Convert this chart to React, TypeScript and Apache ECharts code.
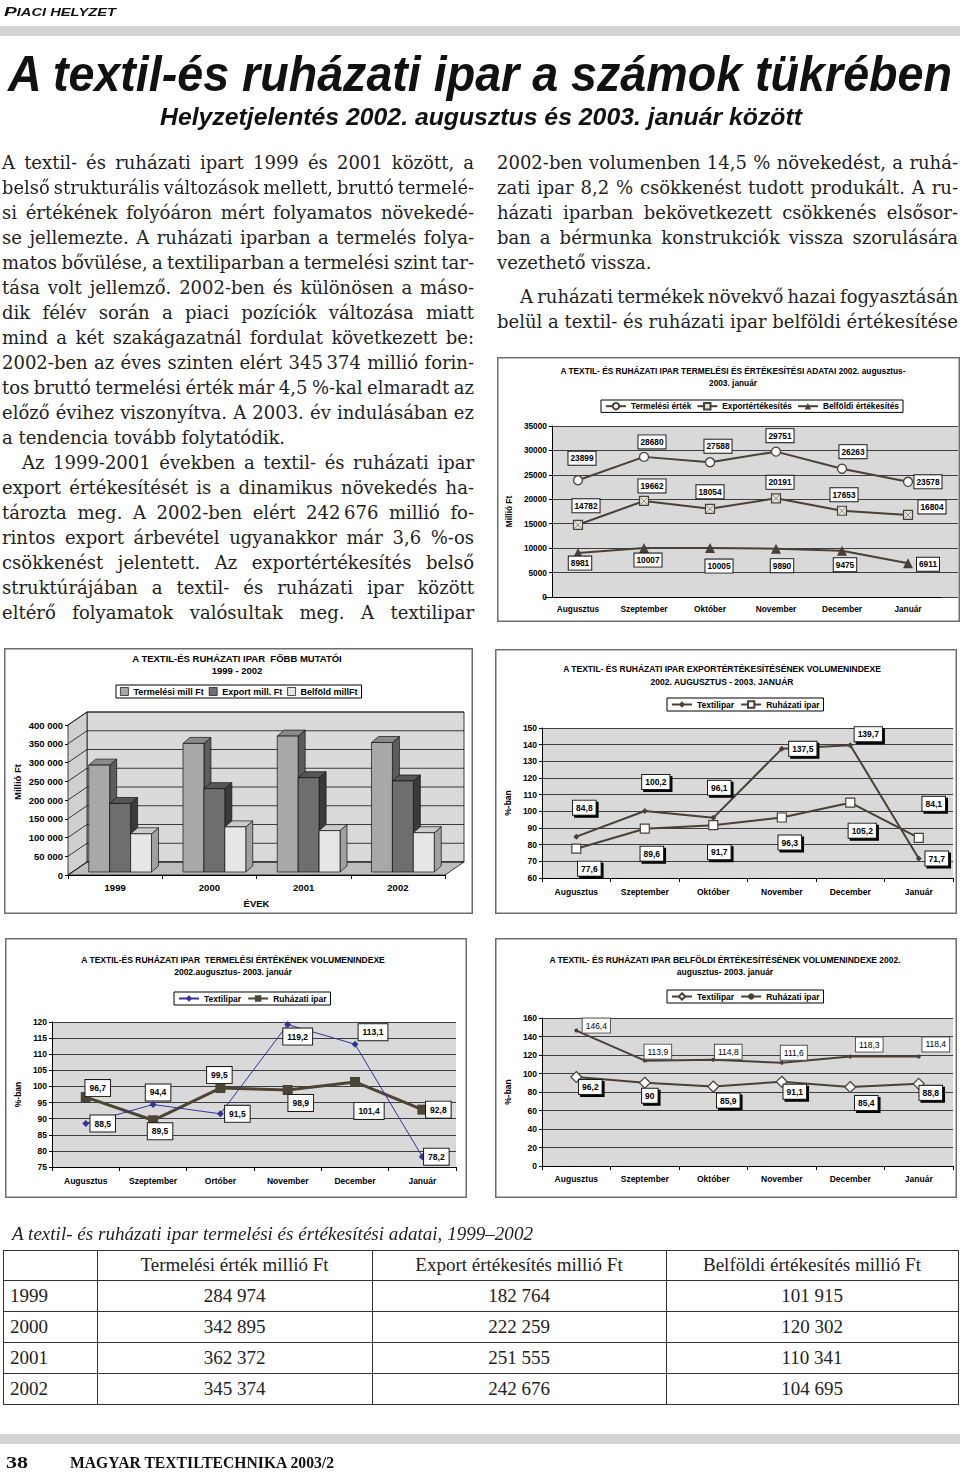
import React, { useEffect, useLayoutEffect, useRef } from 'react';
import * as echarts from 'echarts';

// ---------------- data ----------------
const months = ['Augusztus', 'Szeptember', 'Október', 'November', 'December', 'Január'];
const monthsTermIdx = ['Augusztus', 'Szeptember', 'Ortóber', 'November', 'December', 'Január'];

const termelesiErtek = [23899, 28680, 27588, 29751, 26263, 23578];
const exportErtekesites = [14782, 19662, 18054, 20191, 17653, 16804];
const belfoldiErtekesites = [8981, 10007, 10005, 9890, 9475, 6911];

const exportIdxTextil = [84.8, 100.2, 96.1, 137.5, 139.7, 71.7];
const exportIdxRuhazati = [77.6, 89.6, 91.7, 96.3, 105.2, 84.1];

const termIdxTextil = [88.5, 94.4, 91.5, 119.2, 113.1, 78.2];
const termIdxRuhazati = [96.7, 89.5, 99.5, 98.9, 101.4, 92.8];

const belfIdxTextil = [96.2, 90, 85.9, 91.1, 85.4, 88.8];
const belfIdxRuhazati = [146.4, 113.9, 114.8, 111.6, 118.3, 118.4];

const years = ['1999', '2000', '2001', '2002'];
const evTermelesi = [284974, 342895, 362372, 345374];
const evExport = [182764, 222259, 251555, 242676];
const evBelfoldi = [101915, 120302, 110341, 104695];
const barTicks = [0, 50000, 100000, 150000, 200000, 250000, 300000, 350000, 400000];

const tableHeader = ['Termelési érték millió Ft', 'Export értékesítés millió Ft', 'Belföldi értékesítés millió Ft'];

// ---------------- label offsets (style) ----------------
const offTerm = [[4, -22], [8, -15], [8, -16], [4, -16], [11, -17], [20, 0]];
const offExp = [[8, -19], [8, -15], [0, -17], [4, -16], [2, -16], [24, -8]];
const offBelf = [[2, 10], [4, 12], [9, 18], [6, 17], [3, 14], [20, 1]];
const offE3Tex = [[8, -29], [11, -29], [6, -30], [21, 0], [18, -11], [18, 0]];
const offE3Ruh = [[13, 20], [7, 25], [6, 27], [8, 25], [12, 28], [15, -34]];
const offT4Tex = [[17, 0], [5, -12], [17, 0], [10, 12], [18, -12], [14, 0]];
const offT4Ruh = [[12, -9], [7, 11], [-1, -13], [13, 13], [14, 29], [16, 0]];
const offB5Tex = [[14, 10], [5, 13], [15, 14], [13, 10], [16, 16], [12, 9]];
const offB5Ruh = [[20, -5], [13, -9], [15, -8], [12, -10], [19, -12], [17, -12]];

// ---------------- styles ----------------
const SANS = '"Liberation Sans", Arial, Helvetica, sans-serif';
const SERIF = '"Liberation Serif", "Times New Roman", serif';
const PROSE = '"DejaVu Serif", "Liberation Serif", serif';
const DARK = '#4a4136';
const PLOT_BG = '#d9d9d9';
const GRID_LINE = '#3d3d3d';
const FRAME_C = '#6f6f6f';
const X_PATH = 'path://M0,1 L1,0 L10,9 L19,0 L20,1 L11,10 L20,19 L19,20 L10,11 L1,20 L0,19 L9,10 Z';

const fmtComma = (v: number) => String(v).replace('.', ',');
const fmtPlain = (v: number) => String(v);
const fmtThousands = (v: number) => String(v).replace(/\B(?=(\d{3})+(?!\d))/g, ' ');

const axisFont = (size = 8.5) => ({ fontFamily: SANS, fontSize: size, fontWeight: 'bold', color: '#000' });

function frame(w: number, h: number) {
  return {
    type: 'rect', silent: true, z: 100,
    shape: { x: 0.75, y: 0.75, width: w - 1.5, height: h - 1.5 },
    style: { fill: 'none', stroke: FRAME_C, lineWidth: 1.5 },
  };
}

function gText(x: number, y: number, text: string, size: number, rotation = 0) {
  return {
    type: 'text', silent: true, x, y, rotation, z: 100,
    style: {
      text, font: `bold ${size}px ${SANS}`, fill: '#000',
      align: 'center', verticalAlign: 'middle', textAlign: 'center', textVerticalAlign: 'middle',
    },
  };
}

function withOffsets(values: number[], offs: number[][]) {
  return values.map((v, i) => ({ value: v, label: { offset: offs[i] } }));
}

function boxLabel(fmt: (v: number) => string, o: { bold?: boolean; shadow?: boolean; size?: number; pad?: number[]; border?: string } = {}) {
  const l: any = {
    show: true, position: 'inside', formatter: (p: any) => fmt(p.value),
    fontFamily: SANS, fontSize: o.size ?? 8.5, fontWeight: o.bold === false ? 'normal' : 'bold', color: '#000',
    backgroundColor: '#fff', borderColor: o.border ?? '#1a1a1a', borderWidth: 1, padding: o.pad ?? [3, 3, 2, 3],
  };
  if (o.shadow) {
    l.shadowColor = '#000';
    l.shadowOffsetX = 2;
    l.shadowOffsetY = 2;
    l.shadowBlur = 0;
  }
  return l;
}

function legendCfg(left: number, top: number, data: any[], size = 8.5, itemWidth = 20, itemGap = 6) {
  return {
    left, top, data, orient: 'horizontal', padding: [2, 4], itemGap, itemWidth, itemHeight: 8,
    borderColor: '#000', borderWidth: 1, backgroundColor: '#fff', textStyle: axisFont(size),
  };
}

function valueAxis(min: number, max: number, interval: number, name: string, nameGap: number, size = 8.5, extra: any = {}) {
  return {
    type: 'value', min, max, interval, name, nameLocation: 'middle', nameGap,
    nameTextStyle: axisFont(size),
    axisLine: { show: true, lineStyle: { color: '#000', width: 1 } },
    axisTick: { show: true, length: 3, lineStyle: { color: '#000' } },
    axisLabel: { ...axisFont(size), margin: 5, formatter: (v: number) => String(v) },
    splitLine: { show: true, lineStyle: { color: GRID_LINE, width: 1 } },
    ...extra,
  };
}

function catAxis(data: string[], margin: number, ticks = true, size = 8.5) {
  return {
    type: 'category', data,
    axisLine: { show: true, lineStyle: { color: '#000', width: 1 } },
    axisTick: { show: ticks, length: 4, lineStyle: { color: '#000' } },
    axisLabel: { ...axisFont(size), margin, interval: 0 },
  };
}

// ---------------- chart 1 ----------------
const opt1: any = {
  animation: false,
  backgroundColor: '#fff',
  textStyle: { fontFamily: SANS },
  graphic: [
    frame(463, 265),
    gText(236, 14, 'A TEXTIL- ÉS RUHÁZATI IPAR TERMELÉSI ÉS ÉRTÉKESÍTÉSI ADATAI 2002. augusztus-', 8.3),
    gText(236, 25.5, '2003. január', 8.3),
  ],
  legend: legendCfg(104, 43, ['Termelési érték', 'Exportértékesítés', 'Belföldi értékesítés'], 8.3, 20, 5),
  grid: [
    { left: 48, top: 69, width: 413, height: 171, show: true, backgroundColor: PLOT_BG, borderWidth: 0 },
    { left: 48, top: 69, width: 396, height: 171 },
  ],
  xAxis: [
    { gridIndex: 0, type: 'value', min: 0, max: 1, show: false },
    { gridIndex: 1, ...catAxis(months, 8, false, 8.3) },
  ],
  yAxis: [
    { gridIndex: 0, ...valueAxis(0, 35000, 5000, 'Millió Ft', 34, 8.3) },
    { gridIndex: 1, type: 'value', min: 0, max: 35000, interval: 5000, show: false },
  ],
  series: [
    {
      type: 'line', name: 'Termelési érték', xAxisIndex: 1, yAxisIndex: 1,
      data: withOffsets(termelesiErtek, offTerm),
      symbol: 'circle', symbolSize: 9,
      itemStyle: { color: '#fff', borderColor: DARK, borderWidth: 1.3 },
      lineStyle: { color: DARK, width: 2 },
      label: boxLabel(fmtPlain, { size: 8.3, pad: [3, 2, 2, 2] }),
    },
    {
      type: 'line', name: 'Exportértékesítés', xAxisIndex: 1, yAxisIndex: 1,
      data: withOffsets(exportErtekesites, offExp),
      symbol: 'rect', symbolSize: 9,
      itemStyle: { color: '#e9e5da', borderColor: DARK, borderWidth: 1.2 },
      lineStyle: { color: DARK, width: 2 },
      label: boxLabel(fmtPlain, { size: 8.3, pad: [3, 2, 2, 2] }),
    },
    {
      type: 'line', name: 'Belföldi értékesítés', xAxisIndex: 1, yAxisIndex: 1,
      data: withOffsets(belfoldiErtekesites, offBelf),
      symbol: 'triangle', symbolSize: 10,
      itemStyle: { color: DARK },
      lineStyle: { color: DARK, width: 2 },
      label: boxLabel(fmtPlain, { size: 8.3, pad: [3, 2, 2, 2] }),
    },
    {
      type: 'scatter', name: 'exportX', xAxisIndex: 1, yAxisIndex: 1,
      data: exportErtekesites, symbol: X_PATH, symbolSize: 7,
      itemStyle: { color: DARK }, silent: true, z: 4,
    },
  ],
};

// ---------------- chart 2 (3D bars) ----------------
const W_DX = 19, W_DY = -13;
const BAR_DX = 7, BAR_DY = -6;
const BAR_SHIFT_X = 5, BAR_SHIFT_Y = -3;
const barFaces = [
  { front: '#a8a8a8', top: '#8a8a8a', side: '#5c5c5c' },
  { front: '#6e6e6e', top: '#565656', side: '#3a3a3a' },
  { front: '#e6e6e6', top: '#cbcbcb', side: '#a0a0a0' },
];

function wallsRender(params: any, api: any) {
  const cs = params.coordSys;
  const L = cs.x, T = cs.y, R = cs.x + cs.width, B = cs.y + cs.height;
  const st = (fill: string) => ({ fill, stroke: '#111', lineWidth: 0.8 });
  const children: any[] = [
    { type: 'rect', shape: { x: L + W_DX, y: T + W_DY, width: cs.width, height: cs.height }, style: st('#dadada') },
    { type: 'polygon', shape: { points: [[L, B], [L, T], [L + W_DX, T + W_DY], [L + W_DX, B + W_DY]] }, style: st('#d0d0d0') },
    { type: 'polygon', shape: { points: [[L, B], [R, B], [R + W_DX, B + W_DY], [L + W_DX, B + W_DY]] }, style: st('#bdbdbd') },
  ];
  barTicks.forEach((t) => {
    const y = api.coord([0, t])[1];
    children.push(
      { type: 'line', shape: { x1: L, y1: y, x2: L + W_DX, y2: y + W_DY }, style: { stroke: '#111', lineWidth: 0.8 } },
      { type: 'line', shape: { x1: L + W_DX, y1: y + W_DY, x2: R + W_DX, y2: y + W_DY }, style: { stroke: '#111', lineWidth: 0.8 } },
    );
  });
  return { type: 'group', children };
}

function bar3d(k: number) {
  return (params: any, api: any) => {
    const cat = api.value(0), val = api.value(1);
    const top = api.coord([cat, val]);
    const base = api.coord([cat, 0]);
    const band = api.size([1, 0])[0];
    const bw = band * 0.222;
    const x0 = base[0] - 1.5 * bw + BAR_SHIFT_X + k * bw;
    const yT = top[1] + BAR_SHIFT_Y, yB = base[1] + BAR_SHIFT_Y;
    const f = barFaces[k];
    const st = (fill: string) => ({ fill, stroke: '#111', lineWidth: 0.7 });
    return {
      type: 'group',
      children: [
        { type: 'polygon', shape: { points: [[x0 + bw, yT], [x0 + bw + BAR_DX, yT + BAR_DY], [x0 + bw + BAR_DX, yB + BAR_DY], [x0 + bw, yB]] }, style: st(f.side) },
        { type: 'polygon', shape: { points: [[x0, yT], [x0 + BAR_DX, yT + BAR_DY], [x0 + bw + BAR_DX, yT + BAR_DY], [x0 + bw, yT]] }, style: st(f.top) },
        { type: 'rect', shape: { x: x0, y: yT, width: bw, height: yB - yT }, style: st(f.front) },
      ],
    };
  };
}

const barNames = ['Termelési mill Ft', 'Export mill. Ft', 'Belföld millFt'];
const barSeriesValues = [evTermelesi, evExport, evBelfoldi];

const opt2: any = {
  animation: false,
  backgroundColor: '#fff',
  textStyle: { fontFamily: SANS },
  graphic: [
    frame(469, 266),
    gText(233, 10, 'A TEXTIL-ÉS RUHÁZATI IPAR  FŐBB MUTATÓI', 9.5),
    gText(233, 22, '1999 - 2002', 9.5),
    gText(13, 134, 'Millió Ft', 9.5, Math.PI / 2),
  ],
  legend: {
    ...legendCfg(112, 37, barNames.map((n) => ({ name: n, icon: 'rect' })), 9, 8, 5),
    itemHeight: 8,
    itemStyle: { borderColor: '#222', borderWidth: 0.8 },
  },
  grid: { left: 64, top: 77, width: 377, height: 150 },
  xAxis: {
    ...catAxis(years, 7, true, 9.5),
    name: 'ÉVEK', nameLocation: 'middle', nameGap: 23, nameTextStyle: axisFont(9.5),
  },
  yAxis: {
    ...valueAxis(0, 400000, 50000, '', 0, 9.5),
    axisLabel: { ...axisFont(9.5), margin: 5, formatter: (v: number) => fmtThousands(v) },
    splitLine: { show: false },
  },
  series: [
    { type: 'custom', name: 'walls', renderItem: wallsRender, data: [[0, 0]], silent: true, z: 1 },
    ...barNames.map((n, k) => ({
      type: 'custom', name: n, renderItem: bar3d(k), z: 2 + k,
      data: barSeriesValues[k].map((v, i) => [i, v]),
      itemStyle: { color: barFaces[k].front },
    })),
  ],
};

// ---------------- chart 3 ----------------
const opt3: any = {
  animation: false,
  backgroundColor: '#fff',
  textStyle: { fontFamily: SANS },
  graphic: [
    frame(462, 265),
    gText(227, 20, 'A TEXTIL- ÉS RUHÁZATI IPAR EXPORTÉRTÉKESÍTÉSÉNEK VOLUMENINDEXE', 8.5),
    gText(227, 33, '2002. AUGUSZTUS - 2003. JANUÁR', 8.5),
  ],
  legend: legendCfg(172, 49, ['Textilipar', 'Ruházati ipar']),
  grid: { left: 38, top: 79, width: 420, height: 150, show: true, backgroundColor: PLOT_BG, borderWidth: 0 },
  xAxis: catAxis(months, 9),
  yAxis: valueAxis(60, 150, 10, '%-ban', 25),
  series: [
    {
      type: 'line', name: 'Textilipar', data: withOffsets(exportIdxTextil, offE3Tex),
      symbol: 'diamond', symbolSize: 6, itemStyle: { color: DARK },
      lineStyle: { color: DARK, width: 2 },
      label: boxLabel(fmtComma, { shadow: true }),
    },
    {
      type: 'line', name: 'Ruházati ipar', data: withOffsets(exportIdxRuhazati, offE3Ruh),
      symbol: 'rect', symbolSize: 9, itemStyle: { color: '#fff', borderColor: DARK, borderWidth: 1.2 },
      lineStyle: { color: DARK, width: 2 },
      label: boxLabel(fmtComma, { shadow: true }),
    },
  ],
};

// ---------------- chart 4 ----------------
const BLUE = '#333399';
const OLIVE = '#4d4533';
const opt4: any = {
  animation: false,
  backgroundColor: '#fff',
  textStyle: { fontFamily: SANS },
  graphic: [
    frame(462, 260),
    gText(228, 22, 'A TEXTIL-ÉS RUHÁZATI IPAR  TERMELÉSI ÉRTÉKÉNEK VOLUMENINDEXE', 8.5),
    gText(228, 34, '2002.augusztus- 2003. január', 8.5),
  ],
  legend: legendCfg(169, 54, ['Textilipar', 'Ruházati ipar']),
  grid: { left: 38, top: 84, width: 413, height: 145, show: true, backgroundColor: PLOT_BG, borderWidth: 0 },
  xAxis: catAxis(monthsTermIdx, 9),
  yAxis: valueAxis(75, 120, 5, '%-ban', 23),
  series: [
    {
      type: 'line', name: 'Textilipar', data: withOffsets(termIdxTextil, offT4Tex),
      symbol: 'diamond', symbolSize: 7, itemStyle: { color: BLUE },
      lineStyle: { color: BLUE, width: 1 },
      label: boxLabel(fmtComma, { pad: [4, 4, 3, 4] }),
      z: 3,
    },
    {
      type: 'line', name: 'Ruházati ipar', data: withOffsets(termIdxRuhazati, offT4Ruh),
      symbol: 'rect', symbolSize: 10, itemStyle: { color: OLIVE },
      lineStyle: { color: OLIVE, width: 3 },
      label: boxLabel(fmtComma, { pad: [4, 4, 3, 4] }),
      z: 2,
    },
  ],
};

// ---------------- chart 5 ----------------
const opt5: any = {
  animation: false,
  backgroundColor: '#fff',
  textStyle: { fontFamily: SANS },
  graphic: [
    frame(462, 260),
    gText(230, 22, 'A TEXTIL- ÉS RUHÁZATI IPAR BELFÖLDI ÉRTÉKESÍTÉSÉNEK VOLUMENINDEXE 2002.', 8.5),
    gText(230, 34, 'augusztus- 2003. január', 8.5),
  ],
  legend: legendCfg(172, 52, ['Textilipar', 'Ruházati ipar']),
  grid: { left: 37, top: 80, width: 421, height: 148, show: true, backgroundColor: PLOT_BG, borderWidth: 0 },
  xAxis: catAxis(months, 8.5),
  yAxis: valueAxis(0, 160, 20, '%-ban', 25),
  series: [
    {
      type: 'line', name: 'Textilipar', data: withOffsets(belfIdxTextil, offB5Tex),
      symbol: 'diamond', symbolSize: 11, itemStyle: { color: '#fff', borderColor: DARK, borderWidth: 1.2 },
      lineStyle: { color: DARK, width: 2 },
      label: boxLabel(fmtComma, { shadow: true }),
    },
    {
      type: 'line', name: 'Ruházati ipar', data: withOffsets(belfIdxRuhazati, offB5Ruh),
      symbol: 'circle', symbolSize: 4, itemStyle: { color: DARK },
      lineStyle: { color: DARK, width: 2 },
      label: boxLabel(fmtComma, { bold: false, border: '#555' }),
    },
  ],
};

// ---------------- prose ----------------
type Ln = { t: string; j: boolean; ind?: number };
const leftLines: Ln[] = [
  { t: 'A textil- és ruházati ipart 1999 és 2001 között, a', j: true },
  { t: 'belső strukturális változások mellett, bruttó termelé-', j: true },
  { t: 'si értékének folyóáron mért folyamatos növekedé-', j: true },
  { t: 'se jellemezte. A ruházati iparban a termelés folya-', j: true },
  { t: 'matos bővülése, a textiliparban a termelési szint tar-', j: true },
  { t: 'tása volt jellemző. 2002-ben és különösen a máso-', j: true },
  { t: 'dik félév során a piaci pozíciók változása miatt', j: true },
  { t: 'mind a két szakágazatnál fordulat következett be:', j: true },
  { t: '2002-ben az éves szinten elért 345\u2009374 millió forin-', j: true },
  { t: 'tos bruttó termelési érték már 4,5 %-kal elmaradt az', j: true },
  { t: 'előző évihez viszonyítva. A 2003. év indulásában ez', j: true },
  { t: 'a tendencia tovább folytatódik.', j: false },
  { t: 'Az 1999-2001 években a textil- és ruházati ipar', j: true, ind: 20 },
  { t: 'export értékesítését is a dinamikus növekedés ha-', j: true },
  { t: 'tározta meg. A 2002-ben elért 242\u2009676 millió fo-', j: true },
  { t: 'rintos export árbevétel ugyanakkor már 3,6 %-os', j: true },
  { t: 'csökkenést jelentett. Az exportértékesítés belső', j: true },
  { t: 'struktúrájában a textil- és ruházati ipar között', j: true },
  { t: 'eltérő folyamatok valósultak meg. A textilipar', j: true },
];
const rightLines: Ln[] = [
  { t: '2002-ben volumenben 14,5 % növekedést, a ruhá-', j: true },
  { t: 'zati ipar 8,2 % csökkenést tudott produkált. A ru-', j: true },
  { t: 'házati iparban bekövetkezett csökkenés elsősor-', j: true },
  { t: 'ban a bérmunka konstrukciók vissza szorulására', j: true },
  { t: 'vezethető vissza.', j: false },
  { t: 'A ruházati termékek növekvő hazai fogyasztásán', j: true, ind: 23 },
  { t: 'belül a textil- és ruházati ipar belföldi értékesítése', j: true },
];
const leftCenters = leftLines.map((_, i) => 163 + 25 * i);
const rightCenters = [163, 188, 213, 238, 263, 297, 322];

function Prose({ lines, x, width, centers }: { lines: Ln[]; x: number; width: number; centers: number[] }) {
  return (
    <>
      {lines.map((ln, i) => {
        const ind = ln.ind || 0;
        const w = width - ind;
        const jp: any = ln.j ? { 'data-just': w } : {};
        return (
          <div key={i} style={{
            position: 'absolute', left: x + ind, top: centers[i] - 13.5, height: 25, lineHeight: '25px',
            fontFamily: PROSE, fontSize: 18, color: '#1e1e1e', whiteSpace: 'nowrap',
          }}>
            <span {...jp} style={{ display: 'inline-block', transformOrigin: '0 0' }}>{ln.t}</span>
          </div>
        );
      })}
    </>
  );
}

function FitText(props: { x: number; baseline: number; size: number; width: number; family: string; weight?: any; italic?: boolean; color?: string; children: any }) {
  const { x, baseline, size, width, family, weight, italic, color, children } = props;
  return (
    <div style={{
      position: 'absolute', left: x, top: baseline - 0.845 * size, height: size, lineHeight: `${size}px`,
      fontSize: size, fontFamily: family, fontWeight: weight ?? 'normal', fontStyle: italic ? 'italic' : 'normal',
      color: color ?? '#111', whiteSpace: 'pre',
    }}>
      <span data-fitw={width} style={{ display: 'inline-block', transformOrigin: '0 0' }}>{children}</span>
    </div>
  );
}

function EChart(props: { x: number; y: number; w: number; h: number; option: any }) {
  const ref = useRef<HTMLDivElement>(null);
  useEffect(() => {
    if (!ref.current) return;
    const chart = echarts.init(ref.current, undefined, { renderer: 'svg' });
    chart.setOption(props.option);
    return () => chart.dispose();
  }, []);
  return <div ref={ref} style={{ position: 'absolute', left: props.x, top: props.y, width: props.w, height: props.h }} />;
}

// ---------------- table ----------------
const tblX = [3, 97, 372, 666, 958];
const tblY = [1250, 1280, 1311, 1342, 1373, 1404];

function DataTable() {
  const rows = years.map((y, i) => [y, fmtThousands(evTermelesi[i]), fmtThousands(evExport[i]), fmtThousands(evBelfoldi[i])]);
  const all = [['', ...tableHeader], ...rows];
  const cells: any[] = [];
  all.forEach((r, ri) => {
    r.forEach((txt, ci) => {
      cells.push(
        <div key={`c${ri}-${ci}`} style={{
          position: 'absolute', left: tblX[ci], top: tblY[ri], width: tblX[ci + 1] - tblX[ci], height: tblY[ri + 1] - tblY[ri],
          display: 'flex', alignItems: 'center', justifyContent: ci === 0 ? 'flex-start' : 'center',
          paddingLeft: ci === 0 ? 7 : 0, boxSizing: 'border-box',
          fontFamily: SERIF, fontSize: 19, color: '#222', whiteSpace: 'nowrap',
        }}>{txt}</div>,
      );
    });
  });
  const lines: any[] = [];
  tblY.forEach((y, i) => lines.push(<div key={`h${i}`} style={{ position: 'absolute', left: tblX[0], top: y, width: tblX[4] - tblX[0] + 1, height: 1, background: '#333' }} />));
  tblX.forEach((x, i) => lines.push(<div key={`v${i}`} style={{ position: 'absolute', left: x, top: tblY[0], width: 1, height: tblY[5] - tblY[0] + 1, background: '#333' }} />));
  return <>{cells}{lines}</>;
}

// ---------------- app ----------------
export default function App() {
  const rootRef = useRef<HTMLDivElement>(null);
  useLayoutEffect(() => {
    const root = rootRef.current;
    if (!root) return;
    const run = () => {
      root.querySelectorAll<HTMLElement>('[data-fitw]').forEach((el) => {
        el.style.transform = 'none';
        const w = el.getBoundingClientRect().width;
        const t = Number(el.dataset.fitw);
        if (w > 0) el.style.transform = `scaleX(${t / w})`;
      });
      root.querySelectorAll<HTMLElement>('[data-just]').forEach((el) => {
        el.style.transform = 'none';
        el.style.wordSpacing = '0px';
        const w = el.getBoundingClientRect().width;
        const t = Number(el.dataset.just);
        const n = (el.textContent || '').split(' ').length - 1;
        let ws = n > 0 ? (t - w) / n : 0;
        if (ws < -1.5) ws = -1.5;
        el.style.wordSpacing = `${ws}px`;
        const w2 = el.getBoundingClientRect().width;
        if (w2 > t + 0.5) el.style.transform = `scaleX(${t / w2})`;
      });
    };
    run();
    const fonts: any = (document as any).fonts;
    if (fonts && fonts.ready) fonts.ready.then(run);
  }, []);

  return (
    <div ref={rootRef} style={{ position: 'absolute', left: 0, top: 0, width: 960, height: 1472, background: '#fff', overflow: 'hidden' }}>
      <FitText x={4} baseline={16} size={13} width={112} family={SANS} weight="bold" italic>
        <span>P</span><span style={{ fontSize: 10 }}>IACI HELYZET</span>
      </FitText>
      <div style={{ position: 'absolute', left: 0, top: 26, width: 960, height: 10, background: '#d4d4d4' }} />
      <FitText x={8} baseline={91} size={50} width={944} family={SANS} weight="bold" italic>
        A textil-és ruházati ipar a számok tükrében
      </FitText>
      <FitText x={160} baseline={125} size={23} width={642} family={SANS} weight="bold" italic>
        Helyzetjelentés 2002. augusztus és 2003. január között
      </FitText>

      <Prose lines={leftLines} x={2} width={472} centers={leftCenters} />
      <Prose lines={rightLines} x={497} width={461} centers={rightCenters} />

      <EChart x={497} y={357} w={463} h={265} option={opt1} />
      <EChart x={4} y={648} w={469} h={266} option={opt2} />
      <EChart x={495} y={649} w={462} h={265} option={opt3} />
      <EChart x={5} y={938} w={462} h={260} option={opt4} />
      <EChart x={495} y={938} w={462} h={260} option={opt5} />

      <FitText x={12} baseline={1240} size={19} width={521} family={SERIF} italic color="#222">
        A textil- és ruházati ipar termelési és értékesítési adatai, 1999–2002
      </FitText>
      <DataTable />

      <div style={{ position: 'absolute', left: 0, top: 1434, width: 960, height: 10, background: '#d4d4d4' }} />
      <FitText x={6} baseline={1468} size={17} width={22} family={SERIF} weight="bold">38</FitText>
      <FitText x={70} baseline={1468} size={17} width={264} family={SERIF} weight="bold">MAGYAR TEXTILTECHNIKA 2003/2</FitText>
    </div>
  );
}
